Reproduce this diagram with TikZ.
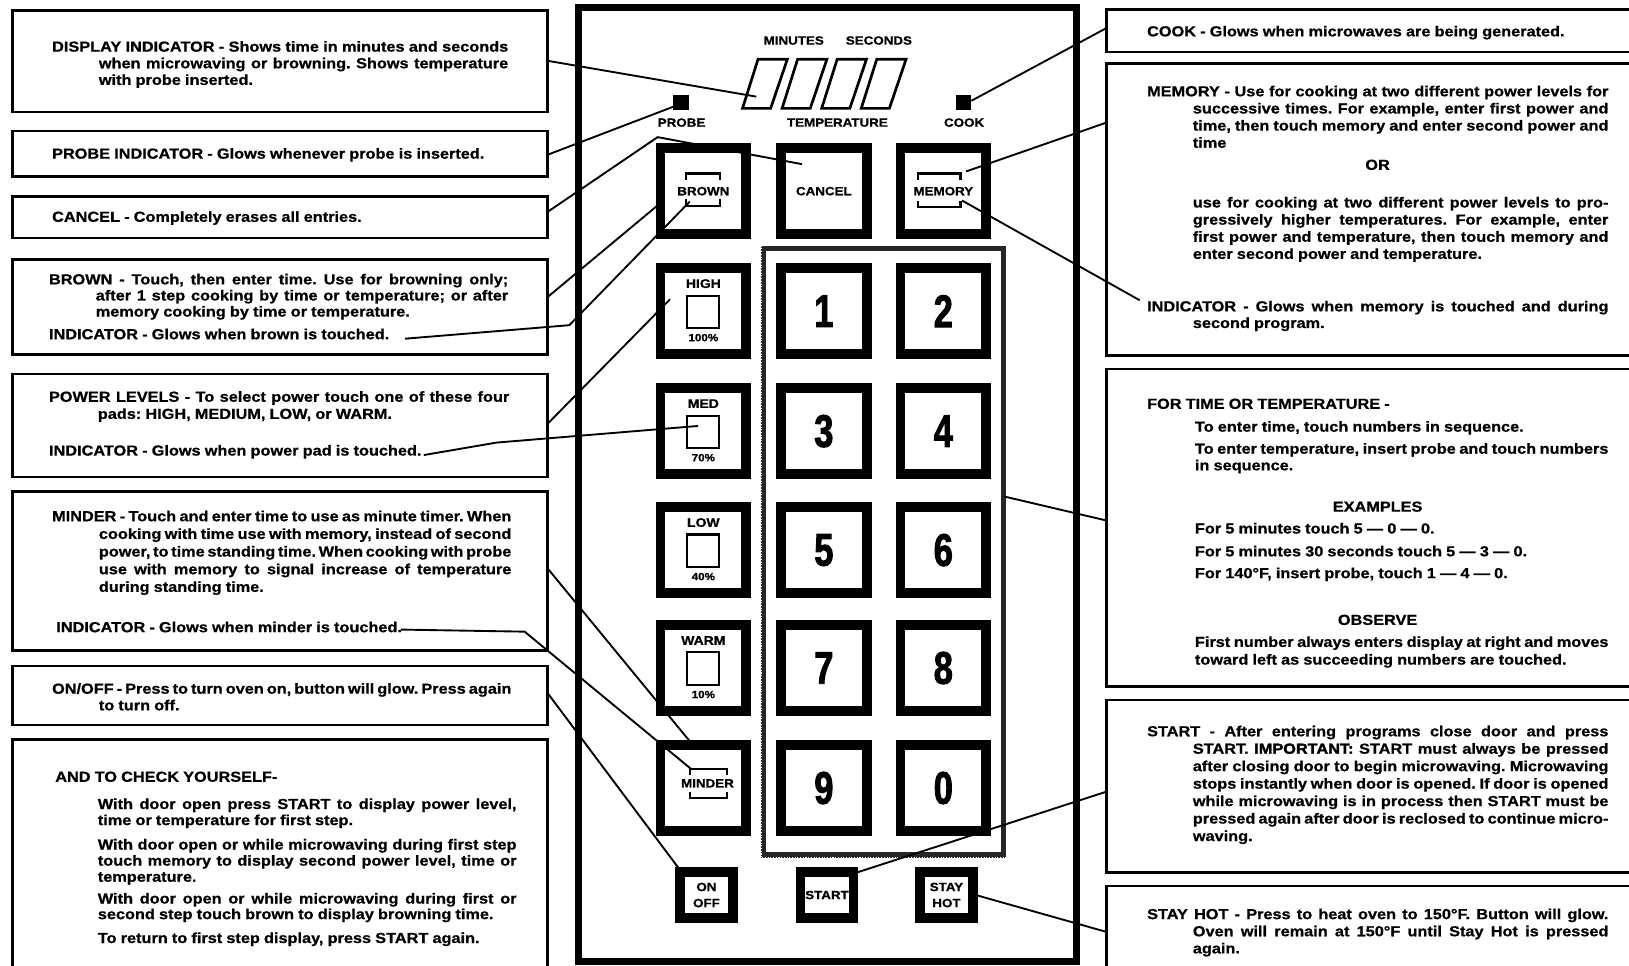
\documentclass[tikz,border=0pt]{standalone}
\usepackage{fontspec}
\setmainfont{Liberation Sans}[FakeStretch=1.12,FakeBold=0.8]
\newfontfamily\digitfamily{Liberation Sans}[FakeStretch=0.75,FakeBold=2]
\newcommand\txtfont{\fontsize{14}{15.5}\selectfont\bfseries\frenchspacing\spaceskip=4pt plus 4pt minus 3pt\relax}
\newcommand\btnfont{\fontsize{11.5}{15.5}\selectfont\bfseries}
\newcommand\boxat[5]{\node[callbox,minimum width={#4-#2},minimum height={#5-#3}] (#1) at ({(#2+#4)/2},{(#3+#5)/2}) {};}
\newcommand\bracketpair[5]{%
  \draw[brk] ({#1-#4},{#2+#5}) |- ({#1+#4},{#2}) -- ({#1+#4},{#2+#5});
  \draw[brk] ({#1-#4},{#3-#5}) |- ({#1+#4},{#3}) -- ({#1+#4},{#3-#5});}
\hbadness=10000 \hfuzz=30pt \vbadness=10000 \vfuzz=30pt
\begin{document}
\begin{tikzpicture}[x=1pt,y=-1pt,
  callbox/.style={draw,line width=2.4pt,inner sep=0pt},
  para/.style n args={3}{anchor=north west,inner sep=0pt,text width=#1pt,align=justify,font=\txtfont,
     execute at begin node={\baselineskip=#3pt\relax\hangindent=#2pt\hangafter=1\relax\rule{0pt}{11pt}}},
  tline/.style={anchor=base west,inner sep=0pt,font=\txtfont},
  cline/.style={anchor=base,inner sep=0pt,font=\txtfont},
  lbl/.style={inner sep=0pt,font=\btnfont},
  plbl/.style={inner sep=0pt,font=\fontsize{12}{14}\selectfont\bfseries},
  pct/.style={inner sep=0pt,font=\fontsize{10}{12}\selectfont\bfseries},
  ind/.style={draw,line width=2pt,minimum size=31pt,inner sep=0pt},
  bigbtn/.style={draw,fill=white,line width=9.5pt,minimum width=82.5pt,minimum height=82.5pt,inner sep=0pt},
  smallbtn/.style={draw,fill=white,line width=9pt,minimum width=51pt,minimum height=44pt,inner sep=0pt,font=\btnfont,align=center},
  digit/.style={font=\digitfamily\fontsize{44}{44}\selectfont\bfseries},
  brk/.style={line width=2pt},
  seg/.style={line width=2.6pt,line join=miter},
  led/.style={fill=black,minimum size=14.5pt,inner sep=0pt},
  conn/.style={line width=1.8pt}]
\useasboundingbox (0,0) rectangle (1568,929);
\clip (0,0) rectangle (1568,929);
\fill[white] (0,0) rectangle (1568,929);

% callout boxes, left
\boxat{bDisp}{12}{10}{527}{108}
\boxat{bProbe}{12}{126}{527}{170}
\boxat{bCancel}{12}{189}{527}{229}
\boxat{bBrown}{12}{250}{527}{341}
\boxat{bPower}{12}{360}{527}{459}
\boxat{bMinder}{12}{473}{527}{626}
\boxat{bOnOff}{12}{641}{527}{698}
\boxat{bCheck}{12}{712}{527}{960}
% callout boxes, right
\boxat{bCook}{1065}{9}{1600}{50}
\boxat{bMem}{1065}{61}{1600}{342}
\boxat{bTime}{1065}{355}{1600}{661}
\boxat{bStart}{1065}{674}{1600}{840}
\boxat{bStay}{1065}{853}{1600}{960}

% control panel
\node[draw,line width=7pt,minimum width=479.5pt,minimum height=918.5pt,inner sep=0pt] (panel) at (796.75,466.25) {};
\node[lbl] (tMin) at (764,39) {MINUTES};
\node[lbl] (tSec) at (846,39) {SECONDS};
\foreach \x in {714.7,752.8,790.9,829}
  \draw[seg] (\x,104.3) -- ++(27.1,0) -- ++(16,-47.2) -- ++(-28.2,0) -- cycle;
\node[led] (ledProbe) at (655.5,98.5) {};
\node[led] (ledCook) at (927.5,98.5) {};
\node[lbl] (tProbeL) at (656,118) {PROBE};
\node[lbl] (tTempL) at (806,118) {TEMPERATURE};
\node[lbl] (tCookL) at (928,118) {COOK};

% top row
\node[bigbtn,font=\btnfont] (kBrown) at (677,184) {BROWN};
\node[bigbtn,font=\btnfont] (kCancel) at (793,184) {CANCEL};
\node[bigbtn,font=\btnfont] (kMemory) at (908,184) {MEMORY};
\bracketpair{676.5}{167}{198}{16.5}{6}
\bracketpair{904}{167}{199}{20.5}{6}

% keypad frame
\node[draw=black!85,line width=5pt,minimum width=231pt,minimum height=584pt,inner sep=0pt] (keypad) at (850.5,531) {};
\draw[white,line width=1pt,dash pattern=on 1pt off 1.6pt] (keypad.north west) rectangle (keypad.south east);

% power buttons
\foreach \nm/\lb/\pc/\cy in {High/HIGH/100/299.5,Med/MED/70/415,Low/LOW/40/529.5,Warm/WARM/10/643}{
  \node[bigbtn] (p\nm) at (677,\cy) {};
  \node[plbl] (pl\nm) at ({677},{\cy-26.5}) {\lb};
  \node[ind] (ps\nm) at ({677},{\cy+0.5}) {};
  \node[pct] (pp\nm) at ({677},{\cy+25.5}) {\pc\%};
}
% digits
\foreach \d/\x/\y in {1/793/299.5,2/908/299.5,3/793/415,4/908/415,5/793/529.5,6/908/529.5,7/793/643,8/908/643,9/793/758.5,0/908/758.5}
  \node[bigbtn,digit] (k\d) at (\x,\y) {\d};
% minder
\node[bigbtn] (kMinder) at (677,758.5) {};
\node[lbl] (lMinder) at (681,754) {MINDER};
\bracketpair{682}{740}{768}{17.5}{6}
% bottom buttons
\node[smallbtn] (kOnOff) at (680,861.5) {ON\\OFF};
\node[smallbtn] (kStart) at (796,861.5) {START};
\node[smallbtn] (kStay) at (911,861.5) {STAY\\HOT};

% left texts
\node[para={439}{45}{16}] (tDisp) at (50,38.5) {DISPLAY INDICATOR - Shows time in minutes and seconds\linebreak when microwaving or browning. Shows temperature\linebreak with probe inserted.};
\node[para={439}{0}{15.5}] (tProbe) at (50,141.5) {\parfillskip=0pt PROBE INDICATOR - Glows whenever probe is inserted.};
\node[tline] (tCancel) at (50,213.5) {CANCEL - Completely erases all entries.};
\node[para={442}{45}{15.5}] (tBrown) at (47,262.5) {BROWN - Touch, then enter time. Use for browning only;\linebreak after 1 step cooking by time or temperature; or after\linebreak memory cooking by time or temperature.};
\node[tline] (tBrownI) at (47,326.5) {INDICATOR - Glows when brown is touched.};
\node[para={443}{47}{16.5}] (tPower) at (47,375.5) {POWER LEVELS - To select power touch one of these four\linebreak pads: HIGH, MEDIUM, LOW, or WARM.};
\node[tline] (tPowerI) at (47,438.5) {INDICATOR - Glows when power pad is touched.};
\node[para={442}{45}{17}] (tMinder) at (50,490.5) {MINDER - Touch and enter time to use as minute timer. When\linebreak cooking with time use with memory, instead of second\linebreak power, to time standing time. When cooking with probe\linebreak use with memory to signal increase of temperature\linebreak during standing time.};
\node[tline] (tMinderI) at (54,608.5) {INDICATOR - Glows when minder is touched.};
\node[para={442}{45}{16}] (tOnOff) at (50,656.5) {ON/OFF - Press to turn oven on, button will glow. Press again\linebreak to turn off.};
\node[tline] (tCheckH) at (53,752.5) {AND TO CHECK YOURSELF-};
\node[para={403}{0}{15.5}] (tCheck1) at (94,767.5) {With door open press START to display power level,\linebreak time or temperature for first step.};
\node[para={403}{0}{15.5}] (tCheck2) at (94,806.5) {With door open or while microwaving during first step\linebreak touch memory to display second power level, time or\linebreak temperature.};
\node[para={403}{0}{15}] (tCheck3) at (94,858.5) {With door open or while microwaving during first or\linebreak second step touch brown to display browning time.};
\node[para={403}{0}{15}] (tCheck4) at (94,896.5) {\parfillskip=0pt To return to first step display, press START again.};

% right texts
\node[tline] (tCook) at (1104,35) {COOK - Glows when microwaves are being generated.};
\node[para={444}{44}{16.5}] (tMem) at (1104,81.5) {MEMORY - Use for cooking at two different power levels for\linebreak successive times. For example, enter first power and\linebreak time, then touch memory and enter second power and\linebreak time};
\node[cline] (tOr) at (1326,163.5) {OR};
\node[para={400}{0}{16.5}] (tMem2) at (1148,188.5) {use for cooking at two different power levels to pro-\linebreak gressively higher temperatures. For example, enter\linebreak first power and temperature, then touch memory and\linebreak enter second power and temperature.};
\node[para={444}{44}{16}] (tMemI) at (1104,288.5) {INDICATOR - Glows when memory is touched and during\linebreak second program.};
\node[tline] (tTimeH) at (1104,393.5) {FOR TIME OR TEMPERATURE -};
\node[tline] (tTime1) at (1150,415.5) {To enter time, touch numbers in sequence.};
\node[para={398}{0}{16}] (tTime2) at (1150,425.5) {To enter temperature, insert probe and touch numbers\linebreak in sequence.};
\node[cline] (tEx) at (1326,492.5) {EXAMPLES};
\node[tline] (tEx1) at (1150,513.5) {For 5 minutes touch 5 — 0 — 0.};
\node[tline] (tEx2) at (1150,535.5) {For 5 minutes 30 seconds touch 5 — 3 — 0.};
\node[tline] (tEx3) at (1150,556.5) {For 140°F, insert probe, touch 1 — 4 — 0.};
\node[cline] (tObs) at (1326,601.5) {OBSERVE};
\node[para={398}{0}{17}] (tObs2) at (1150,611.5) {First number always enters display at right and moves\linebreak toward left as succeeding numbers are touched.};
\node[para={444}{44}{16.8}] (tStart) at (1104,697.5) {START - After entering programs close door and press\linebreak START. {\addfontfeature{FakeBold=2}IMPORTANT:} START must always be pressed\linebreak after closing door to begin microwaving. Microwaving\linebreak stops instantly when door is opened. If door is opened\linebreak while microwaving is in process then START must be\linebreak pressed again after door is reclosed to continue micro-\linebreak waving.};
\node[para={444}{44}{16.5}] (tStay) at (1104,873.5) {STAY HOT - Press to heat oven to 150°F. Button will glow.\linebreak Oven will remain at 150°F until Stay Hot is pressed\linebreak again.};

% connector end points
\coordinate (aDisp) at (527,58.5);   \coordinate (eDisp) at (728,93);
\coordinate (aProbe) at (527,149);   \coordinate (eProbe) at (650,102);
\coordinate (aCan) at (527,204);     \coordinate (kCan) at (633,132);  \coordinate (eCan) at (772,158);
\coordinate (aBrA) at (527,286);     \coordinate (eBrA) at (635,196);
\coordinate (aBrB) at (390,326);     \coordinate (kBrB) at (548,313);  \coordinate (eBrB) at (664,194);
\coordinate (aPwA) at (527,408);     \coordinate (ePwA) at (645,288);
\coordinate (aPwB) at (408,438);     \coordinate (kPwB) at (478,426); \coordinate (ePwB) at (672,410);
\coordinate (aMiA) at (527,547);     \coordinate (eMiA) at (666,716);
\coordinate (aMiB) at (386,606);     \coordinate (kMiB) at (505,608); \coordinate (eMiB) at (665,740);
\coordinate (aOn) at (527,667);      \coordinate (eOn) at (655,838);
\coordinate (aCook) at (1065,27);    \coordinate (eCook) at (935,97);
\coordinate (aMeA) at (1065,118);    \coordinate (eMeA) at (930,165);
\coordinate (aMeB) at (1097,289);    \coordinate (eMeB) at (926,193);
\coordinate (aTime) at (1065,501);   \coordinate (eTime) at (967,478);
\coordinate (aStart) at (1065,762);  \coordinate (eStart) at (818,842);
\coordinate (aStay) at (1065,897);   \coordinate (eStay) at (941,862);

\draw[conn] (aDisp) -- (eDisp);
\draw[conn] (aProbe) -- (eProbe);
\draw[conn] (aCan) -- (kCan) -- (eCan);
\draw[conn] (aBrA) -- (eBrA);
\draw[conn] (aBrB) -- (kBrB) -- (eBrB);
\draw[conn] (aPwA) -- (ePwA);
\draw[conn] (aPwB) -- (kPwB) -- (ePwB);
\draw[conn] (aMiA) -- (eMiA);
\draw[conn] (aMiB) -- (kMiB) -- (eMiB);
\draw[conn] (aOn) -- (eOn);
\draw[conn] (aCook) -- (eCook);
\draw[conn] (aMeA) -- (eMeA);
\draw[conn] (aMeB) -- (eMeB);
\draw[conn] (aTime) -- (eTime);
\draw[conn] (aStart) -- (eStart);
\draw[conn] (aStay) -- (eStay);
\end{tikzpicture}
\end{document}
